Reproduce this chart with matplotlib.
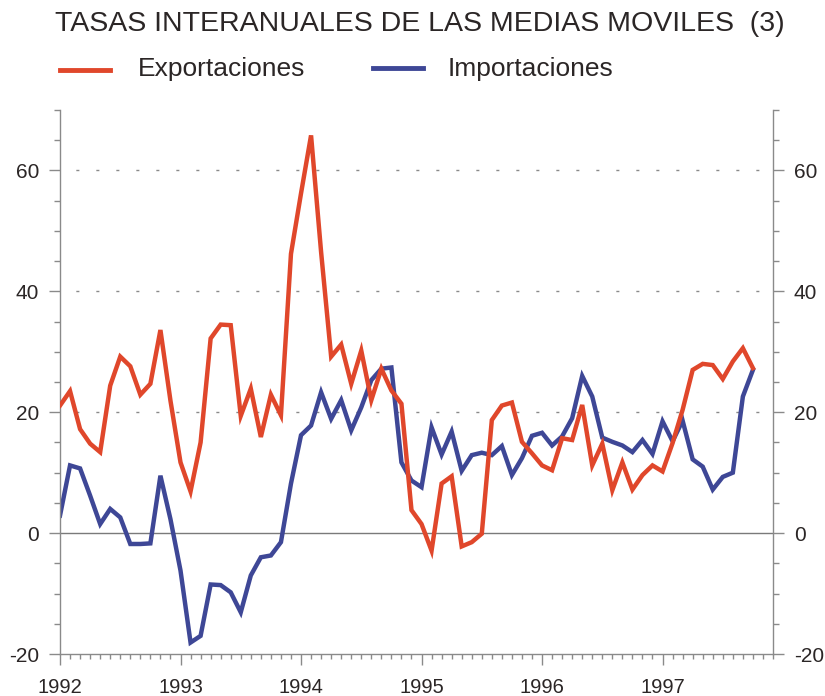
import matplotlib
matplotlib.use("Agg")
import matplotlib.pyplot as plt
from matplotlib.lines import Line2D
from matplotlib.ticker import MultipleLocator, FixedLocator

plt.rcParams['font.family'] = ['Liberation Sans', 'DejaVu Sans']
plt.rcParams['axes.unicode_minus'] = False

title = "TASAS INTERANUALES DE LAS MEDIAS MOVILES  (3)"
series_names = ["Exportaciones", "Importaciones"]
years = ["1992", "1993", "1994", "1995", "1996", "1997"]

exportaciones = [
    21.1, 23.5, 17.2, 14.8, 13.4, 24.4, 29.2, 27.6, 22.9, 24.7, 33.6, 21.9,
    11.7, 6.9, 15.0, 32.2, 34.5, 34.4, 19.4, 23.9, 15.9, 22.9, 19.5, 46.2,
    56.2, 65.8, 46.5, 29.2, 31.2, 24.7, 30.2, 22.0, 27.2, 23.6, 21.4, 3.8,
    1.5, -2.9, 8.2, 9.4, -2.2, -1.5, -0.1, 18.7, 21.1, 21.6, 15.1, 13.2,
    11.2, 10.4, 15.7, 15.4, 21.2, 11.2, 14.8, 7.1, 11.7, 7.2, 9.6, 11.2,
    10.2, 14.9, 20.4, 27.0, 28.0, 27.8, 25.5, 28.4, 30.6, 27.3,
]
importaciones = [
    2.9, 11.2, 10.7, 6.2, 1.5, 4.0, 2.6, -1.8, -1.8, -1.7, 9.5, 2.3,
    -6.2, -18.1, -17.0, -8.5, -8.6, -9.8, -13.1, -7.0, -4.0, -3.7, -1.5, 8.2,
    16.2, 17.8, 23.3, 18.9, 22.0, 17.0, 20.8, 25.3, 27.2, 27.4, 11.7, 8.7,
    7.6, 17.5, 13.0, 16.8, 10.3, 12.9, 13.3, 12.9, 14.4, 9.6, 12.4, 16.1,
    16.6, 14.5, 16.0, 19.0, 26.0, 22.6, 15.8, 15.1, 14.5, 13.4, 15.4, 13.1,
    18.5, 15.2, 18.6, 12.2, 11.0, 7.2, 9.3, 10.0, 22.6, 27.0,
]

RED = "#E0472B"
BLUE = "#3E4796"
GREY = "#8a8a8a"
TXT = "#2b2626"
W, H = 825, 696

months = list(range(len(exportaciones)))

fig = plt.figure(figsize=(W/100, H/100), dpi=100)
ax = fig.add_axes([60/W, 1-654/H, (773-60)/W, (654-110)/H])

for yv in (20, 40, 60):
    ax.axhline(yv, color=GREY, lw=1.0, linestyle=(3, (2.2, 12.2)), zorder=1)
ax.axhline(0, color="#7a7a7a", lw=1.0, zorder=1)

l1, = ax.plot(months, exportaciones, color=RED, lw=3.2, solid_joinstyle='miter', zorder=3)
l2, = ax.plot(months, importaciones, color=BLUE, lw=3.2, solid_joinstyle='miter', zorder=2)

ax.set_xlim(0, 71)
ax.set_ylim(-20, 70)

ax.spines["top"].set_visible(False)
for s in ("left", "right", "bottom"):
    ax.spines[s].set_color(GREY)
    ax.spines[s].set_linewidth(1.0)

ax.xaxis.set_major_locator(FixedLocator([12*i for i in range(len(years))]))
ax.set_xticklabels(years)
ax.xaxis.set_minor_locator(MultipleLocator(1))
ax.yaxis.set_major_locator(FixedLocator([-20, 0, 20, 40, 60]))
ax.yaxis.set_minor_locator(MultipleLocator(5))

ax.tick_params(axis='x', which='major', direction='out', length=8, width=1, color=GREY,
               labelsize=14.5, labelcolor=TXT, pad=9)
ax.tick_params(axis='x', which='minor', direction='out', length=3.5, width=1, color=GREY)
ax.tick_params(axis='y', which='major', direction='out', length=8, width=1, color=GREY,
               labelsize=15, labelcolor=TXT, left=True, right=True, labelleft=True,
               labelright=True, pad=7)
ax.tick_params(axis='y', which='minor', direction='out', length=4.5, width=1, color=GREY,
               left=True, right=True)

fig.text(55/W, 1-24/H, title, fontsize=20.5, color=TXT, ha='left', va='center')

# legend drawn manually
fig.add_artist(Line2D([60/W, 110/W], [1-70/H, 1-70/H], color=RED, lw=3.5,
                      transform=fig.transFigure))
fig.text(138/W, 1-69/H, series_names[0], fontsize=19, color=TXT, ha='left', va='center')
fig.add_artist(Line2D([373/W, 423/W], [1-68/H, 1-68/H], color=BLUE, lw=3.5,
                      transform=fig.transFigure))
fig.text(448/W, 1-69/H, series_names[1], fontsize=19, color=TXT, ha='left', va='center')

fig.savefig("out.png", dpi=100)
